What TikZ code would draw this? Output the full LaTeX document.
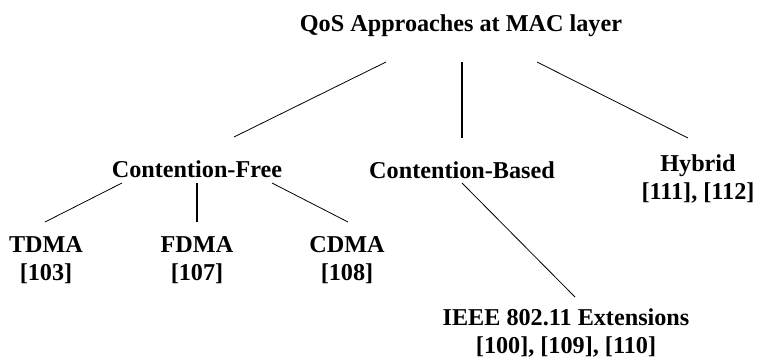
\documentclass[tikz,border=0pt]{standalone}
\usepackage{fontspec}
\setmainfont{Liberation Serif}
\begin{document}
\begin{tikzpicture}[x=1pt,y=-1pt,
  lbl/.style={font=\fontsize{24.2}{28}\selectfont\bfseries, align=center, inner sep=0pt},
  thin/.style={line width=0.8pt, black},
  thick/.style={line width=2pt, black}]
\useasboundingbox (0,0) rectangle (763,359);
\node[lbl] (root) at (461,26) {QoS Approaches at MAC layer};
\node[lbl] (cf) at (197,169) {Contention-Free};
\node[lbl] (cb) at (462,170) {Contention-Based};
\node[lbl] (hy) at (698,178.5) {Hybrid\\{[111], [112]}};
\node[lbl] (td) at (46,260) {TDMA\\{[103]}};
\node[lbl] (fd) at (197,260) {FDMA\\{[107]}};
\node[lbl] (cd) at (347,260) {CDMA\\{[108]}};
\node[lbl] (ie) at (566,333) {IEEE 802.11 Extensions\\{[100], [109], [110]}};
\draw[thin] ([shift={(-75,36)}]root.center) -- ([shift={(37,-32)}]cf.center);
\draw[thick] ([shift={(1,36)}]root.center) -- ([shift={(0,-32)}]cb.center);
\draw[thin] ([shift={(76,36)}]root.center) -- ([shift={(-10,-40.5)}]hy.center);
\draw[thin] ([shift={(-75,14)}]cf.center) -- ([shift={(-1,-38)}]td.center);
\draw[thick] ([shift={(0,14)}]cf.center) -- ([shift={(0,-38)}]fd.center);
\draw[thin] ([shift={(75,14)}]cf.center) -- ([shift={(1,-38)}]cd.center);
\draw[thin] ([shift={(0,13)}]cb.center) -- ([shift={(9,-36)}]ie.center);
\end{tikzpicture}
\end{document}
